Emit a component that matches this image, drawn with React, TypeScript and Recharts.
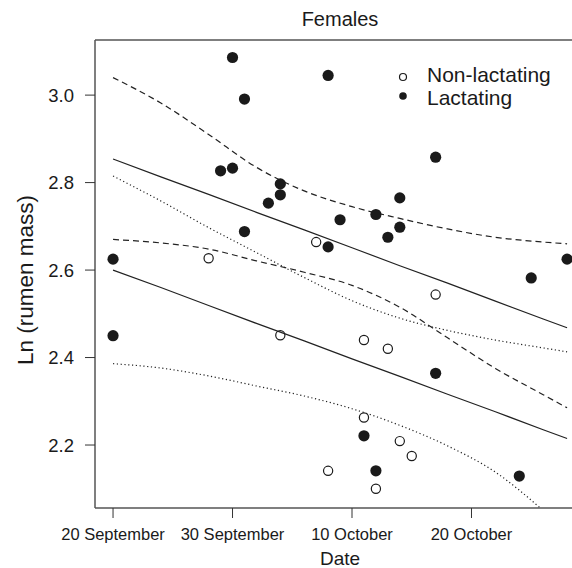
import React from "react";
import {
  ComposedChart,
  Scatter,
  Line,
  XAxis,
  YAxis,
  ReferenceLine,
} from "recharts";

const FONT = '"Liberation Sans", Arial, Helvetica, sans-serif';
const INK = "#1a1a1a";

// x = days since 20 September
const xTicks = [0, 10, 20, 30];
const xTickLabels = ["20 September", "30 September", "10 October", "20 October"];
const yTicks = [2.2, 2.4, 2.6, 2.8, 3.0];

const lactDays = [0, 0, 9, 10, 10, 11, 11, 13, 14, 14, 18, 18, 19, 21, 22, 22, 23, 24, 24, 27, 27, 34, 35, 38];
const lactMass = [
  2.625, 2.45, 2.827, 3.086, 2.833, 2.991, 2.688, 2.753, 2.797, 2.772, 3.045, 2.653,
  2.715, 2.221, 2.727, 2.141, 2.675, 2.765, 2.698, 2.858, 2.364, 2.129, 2.582, 2.625,
];

const nonDays = [8, 14, 17, 18, 21, 21, 22, 23, 24, 25, 27];
const nonMass = [2.627, 2.451, 2.664, 2.141, 2.44, 2.263, 2.1, 2.42, 2.209, 2.175, 2.544];

const lineDays = [0, 4, 8, 12, 16, 20, 24, 28, 32, 36, 38];
const fitLact = [2.854, 2.813, 2.773, 2.732, 2.692, 2.651, 2.61, 2.57, 2.529, 2.488, 2.468];
const fitNon = [2.6, 2.56, 2.519, 2.478, 2.438, 2.397, 2.357, 2.316, 2.276, 2.235, 2.215];
const ciLactHi = [3.04, 2.982, 2.91, 2.835, 2.781, 2.745, 2.718, 2.694, 2.675, 2.664, 2.66];
const ciLactLo = [2.67, 2.662, 2.648, 2.621, 2.595, 2.565, 2.515, 2.445, 2.375, 2.315, 2.285];
const ciNonHi = [2.815, 2.758, 2.697, 2.64, 2.583, 2.53, 2.49, 2.462, 2.44, 2.422, 2.413];
const ciNonLo = [2.386, 2.376, 2.358, 2.335, 2.312, 2.283, 2.245, 2.198, 2.138, 2.05, 2.0];

const X_DOMAIN: [number, number] = [-1.51, 39.5];
const Y_DOMAIN: [number, number] = [2.056, 3.126];

const pts = (xs: number[], ys: number[]) => xs.map((x, i) => ({ x, y: ys[i] }));

const lactData = pts(lactDays, lactMass);
const nonData = pts(nonDays, nonMass);

const filledDot = (p: any) => <circle cx={p.cx} cy={p.cy} r={5.6} fill={INK} />;
const openDot = (p: any) => (
  <circle cx={p.cx} cy={p.cy} r={4.6} fill="none" stroke={INK} strokeWidth={1.2} />
);

const bandLines = [
  { key: "fitLact", vals: fitLact, dash: undefined, type: "linear" },
  { key: "fitNon", vals: fitNon, dash: undefined, type: "linear" },
  { key: "ciLactHi", vals: ciLactHi, dash: "6 4", type: "monotone" },
  { key: "ciLactLo", vals: ciLactLo, dash: "6 4", type: "monotone" },
  { key: "ciNonHi", vals: ciNonHi, dash: "1.2 2.6", type: "monotone" },
  { key: "ciNonLo", vals: ciNonLo, dash: "1.2 2.6", type: "monotone" },
];

const App = () => {
  return (
    <div
      style={{
        position: "fixed",
        left: 0,
        top: 0,
        width: 572,
        height: 568,
        overflow: "hidden",
        background: "#fff",
      }}>
      <ComposedChart
        width={610}
        height={568}
        margin={{ top: 40, right: 25, left: 0, bottom: 0 }}
        style={{ fontFamily: FONT }}>
        <XAxis
          type="number"
          dataKey="x"
          domain={X_DOMAIN}
          allowDataOverflow
          ticks={xTicks}
          interval={0}
          tickFormatter={(v: number) => xTickLabels[xTicks.indexOf(v)]}
          height={60}
          tickSize={10}
          tickMargin={10}
          axisLine={{ stroke: "#555", strokeWidth: 1.5 }}
          tickLine={{ stroke: "#333" }}
          tick={{ fontSize: 16.5, fill: INK, fontFamily: FONT }}
        />
        <YAxis
          type="number"
          dataKey="y"
          domain={Y_DOMAIN}
          allowDataOverflow
          ticks={yTicks}
          interval={0}
          tickFormatter={(v: number) => v.toFixed(1)}
          width={95}
          tickSize={10}
          tickMargin={11}
          axisLine={{ stroke: "#555", strokeWidth: 1.5 }}
          tickLine={{ stroke: "#333" }}
          tick={{ fontSize: 18.5, fill: INK, fontFamily: FONT }}
        />
        <ReferenceLine y={Y_DOMAIN[1]} stroke="#555" strokeWidth={1.5} />
        {bandLines.map((l) => (
          <Line
            key={l.key}
            data={pts(lineDays, l.vals)}
            dataKey="y"
            type={l.type as any}
            stroke="#222"
            strokeWidth={1.2}
            strokeDasharray={l.dash}
            dot={false}
            activeDot={false}
            isAnimationActive={false}
          />
        ))}
        <Scatter data={nonData} shape={openDot} isAnimationActive={false} />
        <Scatter data={lactData} shape={filledDot} isAnimationActive={false} />

        <text x={340} y={26} textAnchor="middle" fontSize={20} fill={INK} fontFamily={FONT}>
          Females
        </text>
        <text x={340} y={565} textAnchor="middle" fontSize={19} fill={INK} fontFamily={FONT}>
          Date
        </text>
        <text
          transform="translate(33,280) rotate(-90)"
          textAnchor="middle"
          fontSize={22.5}
          fill={INK}
          fontFamily={FONT}>
          Ln (rumen mass)
        </text>

        <circle cx={403} cy={77} r={3.5} fill="none" stroke={INK} strokeWidth={1.2} />
        <text x={427} y={82} fontSize={21} fill={INK} fontFamily={FONT}>
          Non-lactating
        </text>
        <circle cx={403} cy={96} r={3.8} fill={INK} />
        <text x={427} y={105} fontSize={21} fill={INK} fontFamily={FONT}>
          Lactating
        </text>
      </ComposedChart>
    </div>
  );
};

export default App;
